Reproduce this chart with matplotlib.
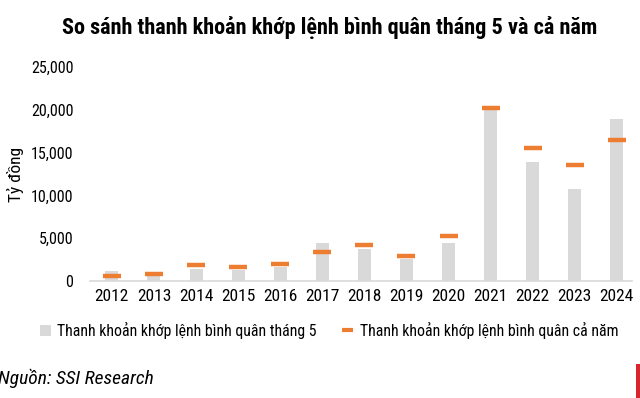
import matplotlib
matplotlib.use("Agg")
import matplotlib.pyplot as plt
from matplotlib.patches import Patch, Rectangle
from matplotlib.lines import Line2D
import numpy as np

# data (ty dong)
years = ["2012", "2013", "2014", "2015", "2016", "2017", "2018",
         "2019", "2020", "2021", "2022", "2023", "2024"]
may_avg = [1200, 700, 1360, 1250, 1670, 4400, 3770, 2600, 4470, 20150, 13850, 10700, 18880]
year_avg = [620, 850, 1870, 1670, 1980, 3420, 4230, 2910, 5240, 20200, 15500, 13600, 16470]
yticks = [0, 5000, 10000, 15000, 20000, 25000]

fam = ["Roboto Condensed", "DejaVu Sans"]
plt.rcParams["font.family"] = fam

fig = plt.figure(figsize=(6.4, 3.98), dpi=100)
ax = fig.add_axes([0.1406, 0.294, 0.8469, 0.5377])

x = np.arange(len(years))
ax.bar(x, may_avg, width=0.31, color="#d9d9d9", zorder=2)
ax.plot(x, year_avg, linestyle="none", marker="_", markersize=12.5,
        markeredgewidth=3.2, color="#ed7d31", zorder=3)

ax.set_xlim(-0.52, 12.36)
ax.set_ylim(0, 25000)
ax.set_yticks(yticks)
ax.set_yticklabels([f"{v:,}" for v in yticks])
ax.set_xticks(x)
ax.set_xticklabels(years)
ax.tick_params(axis="both", length=0)
ax.tick_params(axis="x", pad=6, labelsize=12.5)
ax.tick_params(axis="y", pad=12, labelsize=11.5)
for s in ["top", "right", "left"]:
    ax.spines[s].set_visible(False)
ax.spines["bottom"].set_color("#d9d9d9")
ax.spines["bottom"].set_linewidth(1.2)

ax.set_ylabel("Tỷ đồng", fontsize=12.5)
ax.yaxis.set_label_coords(-0.122, 0.5)

fig.text(0.515, 0.93, "So sánh thanh khoản khớp lệnh bình quân tháng 5 và cả năm",
         ha="center", va="center", fontsize=16, fontweight="bold")

handles = [Patch(facecolor="#d9d9d9", edgecolor="none"),
           Line2D([0], [0], color="#ed7d31", linewidth=3, solid_capstyle="butt")]
labels = ["Thanh khoản khớp lệnh bình quân tháng 5",
          "Thanh khoản khớp lệnh bình quân cả năm"]
fig.legend(handles, labels, loc="center", bbox_to_anchor=(0.514, 0.17), ncol=2,
           frameon=False, fontsize=11.4, handlelength=0.7, handletextpad=0.4,
           columnspacing=1.6)

fig.text(-0.003, 0.05, "Nguồn: SSI Research", ha="left", va="center",
         fontsize=14, style="italic")

# small red mark at the bottom right edge
fig.patches.append(Rectangle((0.993, 0.0), 0.01, 0.085, transform=fig.transFigure,
                             facecolor="#d7262e", edgecolor="none"))

fig.savefig("out.png", dpi=100)
